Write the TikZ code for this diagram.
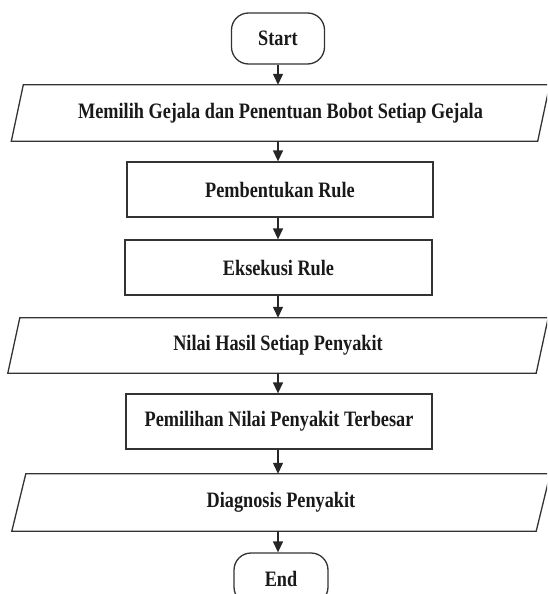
\documentclass[tikz,border=0pt]{standalone}
\usepackage{fontspec}
\setmainfont{Liberation Serif}[FakeStretch=0.83]
\usetikzlibrary{arrows.meta}
\begin{document}
\begin{tikzpicture}[x=1pt,y=1pt,
  every node/.style={font=\fontsize{22}{26}\selectfont\bfseries, text=black!90},
  lineclr/.style={draw=black!80, line width=1.3pt},
  term/.style={lineclr, rounded corners=17pt, minimum width=93pt, minimum height=51pt, inner sep=0pt},
  procbox/.style={lineclr, minimum width=306pt, minimum height=55pt, inner sep=0pt},
  iobox/.style={minimum height=56pt, inner sep=0pt},
  arr/.style={black!85, line width=1.3pt, -{Triangle[length=11pt,width=10pt]}}
]
\useasboundingbox (0,0) rectangle (547,-594);
\clip (0,0) rectangle (547,-594);

\node[term] (start) at (278,-38.5) {Start};
\node[iobox, minimum width=526pt] (p1) at (280.5,-113) {Memilih Gejala dan Penentuan Bobot Setiap Gejala};
\node[procbox] (b1) at (280,-189.5) {Pembentukan Rule};
\node[procbox, minimum width=307pt] (b2) at (278.5,-267.5) {Eksekusi Rule};
\node[iobox, minimum width=528pt, minimum height=55pt] (p2) at (278,-345.5) {Nilai Hasil Setiap Penyakit};
\node[procbox] (b3) at (279,-421.5) {Pemilihan Nilai Penyakit Terbesar};
\node[iobox, minimum width=524pt, minimum height=57pt] (p3) at (281,-502.5) {Diagnosis Penyakit};
\node[term, minimum width=94pt] (end) at (281,-578.5) {End};

\draw[lineclr] ([xshift=6pt]p1.north west) -- ([xshift=6pt]p1.north east) -- ([xshift=-6pt]p1.south east) -- ([xshift=-6pt]p1.south west) -- cycle;
\draw[lineclr] ([xshift=6pt]p2.north west) -- ([xshift=6pt]p2.north east) -- ([xshift=-6pt]p2.south east) -- ([xshift=-6pt]p2.south west) -- cycle;
\draw[lineclr] ([xshift=7pt]p3.north west) -- ([xshift=7pt]p3.north east) -- ([xshift=-7pt]p3.south east) -- ([xshift=-7pt]p3.south west) -- cycle;

\coordinate (ax) at (278,0);
\draw[arr] (start.south) -- (ax |- p1.north);
\draw[arr] (ax |- p1.south) -- (ax |- b1.north);
\draw[arr] (ax |- b1.south) -- (ax |- b2.north);
\draw[arr] (ax |- b2.south) -- (ax |- p2.north);
\draw[arr] (ax |- p2.south) -- (ax |- b3.north);
\draw[arr] (ax |- b3.south) -- (ax |- p3.north);
\draw[arr] (ax |- p3.south) -- (ax |- end.north);
\end{tikzpicture}
\end{document}
